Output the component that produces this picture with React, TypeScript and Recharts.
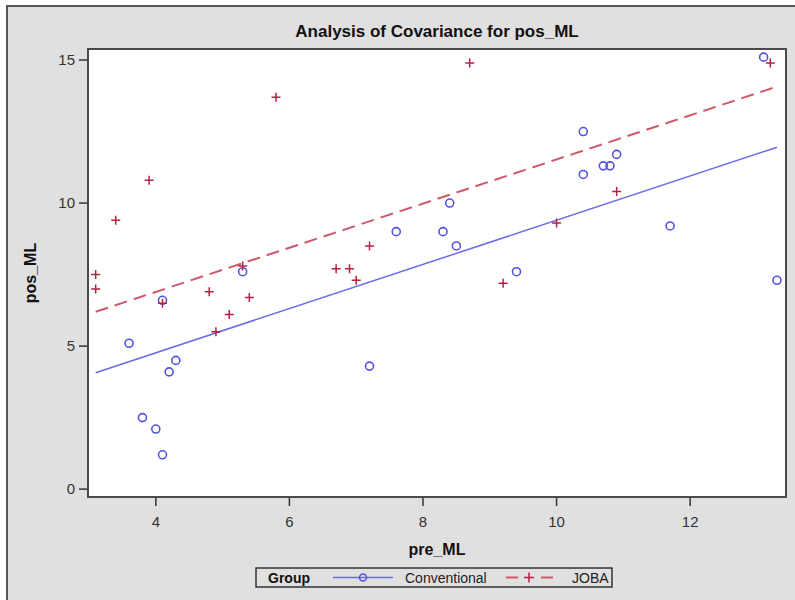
import React from "react";
import { ScatterChart, Scatter, XAxis, YAxis } from "recharts";

// Conventional group (circles)
const convX = [3.6, 4.1, 4.3, 4.2, 3.8, 4.0, 4.1, 5.3, 7.2, 7.6, 8.3, 8.4, 8.5, 9.4, 10.4, 10.4, 10.7, 10.8, 10.9, 11.7, 13.1, 13.3];
const convY = [5.1, 6.6, 4.5, 4.1, 2.5, 2.1, 1.2, 7.6, 4.3, 9.0, 9.0, 10.0, 8.5, 7.6, 12.5, 11.0, 11.3, 11.3, 11.7, 9.2, 15.1, 7.3];

// JOBA group (plus signs)
const jobaX = [3.1, 3.1, 3.4, 3.9, 4.1, 4.8, 4.9, 5.1, 5.3, 5.4, 5.8, 6.7, 6.9, 7.0, 7.2, 8.7, 9.2, 10.0, 10.9, 13.2];
const jobaY = [7.5, 7.0, 9.4, 10.8, 6.5, 6.9, 5.5, 6.1, 7.8, 6.7, 13.7, 7.7, 7.7, 7.3, 8.5, 14.9, 7.2, 9.3, 10.4, 14.9];

// fitted (parallel) ANCOVA lines
const fitX = [3.1, 13.3];
const fitConv = [4.07, 11.95];
const fitJoba = [6.2, 14.07];

const xTicks = [4, 6, 8, 10, 12];
const yTicks = [0, 5, 10, 15];

const BLUE = "#5252e0";
const BLUE_LINE = "#6a6aea";
const RED = "#b8203f";
const RED_LINE = "#cf5868";
const FONT = "'Liberation Sans', Arial, sans-serif";

const toPoints = (xs: number[], ys: number[]) => xs.map((x, i) => ({ x, y: ys[i] }));

const convData = toPoints(convX, convY);
const jobaData = toPoints(jobaX, jobaY);
const convFit = toPoints(fitX, fitConv);
const jobaFit = toPoints(fitX, fitJoba);

const CircleMark = (props: any) => {
  const { cx, cy } = props;
  if (cx == null || cy == null) return <g />;
  return <circle cx={cx} cy={cy} r={4} fill="none" stroke={BLUE} strokeWidth={1.6} />;
};

const PlusMark = (props: any) => {
  const { cx, cy } = props;
  if (cx == null || cy == null) return <g />;
  const s = 4.5;
  return (
    <path
      d={`M${cx - s},${cy}H${cx + s}M${cx},${cy - s}V${cy + s}`}
      stroke={RED}
      strokeWidth={1.5}
      fill="none"
    />
  );
};

const NoMark = () => <g />;

function LegendBox() {
  return (
    <svg
      width={358}
      height={21}
      style={{ position: "absolute", left: 255, top: 567 }}
      fontFamily={FONT}
    >
      <rect x={1} y={1} width={356} height={19} fill="none" stroke="#333" strokeWidth={1.5} />
      <text x={13} y={15.5} fontSize={14} fontWeight="bold" fill="#111">
        Group
      </text>
      <line x1={78} x2={138} y1={10.5} y2={10.5} stroke={BLUE_LINE} strokeWidth={1.5} />
      <circle cx={108} cy={10.5} r={3.5} fill="none" stroke={BLUE} strokeWidth={1.5} />
      <text x={150} y={15.5} fontSize={14} fill="#222">
        Conventional
      </text>
      <line x1={251} x2={263} y1={10.5} y2={10.5} stroke={RED_LINE} strokeWidth={2} />
      <line x1={286} x2={298} y1={10.5} y2={10.5} stroke={RED_LINE} strokeWidth={2} />
      <path d="M269,10.5H279M274,5.5V15.5" stroke={RED} strokeWidth={1.5} />
      <text x={317} y={15.5} fontSize={14} fill="#222">
        JOBA
      </text>
    </svg>
  );
}

export default function App() {
  return (
    <div
      style={{
        position: "absolute",
        left: 0,
        top: 0,
        width: 795,
        height: 600,
        background: "#fff",
        overflow: "hidden",
        fontFamily: FONT,
      }}
    >
      <div
        style={{
          position: "absolute",
          left: 6,
          top: 5,
          width: 795,
          height: 600,
          background: "#e0e0e0",
          borderLeft: "2px solid #555",
          borderTop: "2px solid #555",
        }}
      />
      <div
        style={{
          position: "absolute",
          left: 87,
          top: 48,
          width: 700,
          height: 450,
          background: "#fff",
        }}
      />
      <div
        style={{
          position: "absolute",
          left: 0,
          width: 874,
          top: 22,
          textAlign: "center",
          fontSize: 17,
          fontWeight: "bold",
          color: "#111",
          lineHeight: "20px",
        }}
      >
        Analysis of Covariance for pos_ML
      </div>
      <div style={{ position: "absolute", left: 0, top: 0 }}>
        <ScatterChart
          width={795}
          height={600}
          margin={{ top: 48, right: 8, bottom: 62, left: 30 }}
        >
          <XAxis
            type="number"
            dataKey="x"
            domain={[2.97, 13.45]}
            ticks={xTicks}
            allowDataOverflow
            height={40}
            axisLine={false}
            tickSize={8}
            tickMargin={10}
            tickLine={{ stroke: "#333", strokeWidth: 1.5 }}
            tick={{ fill: "#333", fontSize: 15, fontFamily: FONT }}
            label={{
              value: "pre_ML",
              position: "insideBottom",
              offset: -17,
              fill: "#111",
              fontSize: 16,
              fontWeight: "bold",
              fontFamily: FONT,
            }}
          />
          <YAxis
            type="number"
            dataKey="y"
            domain={[-0.31, 15.42]}
            ticks={yTicks}
            allowDataOverflow
            width={57}
            axisLine={false}
            tickSize={8}
            tickMargin={4}
            tickLine={{ stroke: "#333", strokeWidth: 1.5 }}
            tick={{ fill: "#333", fontSize: 15, fontFamily: FONT }}
            label={{
              value: "pos_ML",
              angle: -90,
              position: "insideLeft",
              offset: 0,
              fill: "#111",
              fontSize: 16,
              fontWeight: "bold",
              fontFamily: FONT,
              style: { textAnchor: "middle" },
            }}
          />
          <Scatter
            name="Conventional fit"
            data={convFit}
            line={{ stroke: BLUE_LINE, strokeWidth: 1.5 }}
            shape={NoMark}
            isAnimationActive={false}
          />
          <Scatter
            name="JOBA fit"
            data={jobaFit}
            line={{ stroke: RED_LINE, strokeWidth: 2, strokeDasharray: "13 7" }}
            shape={NoMark}
            isAnimationActive={false}
          />
          <Scatter name="Conventional" data={convData} shape={CircleMark} isAnimationActive={false} />
          <Scatter name="JOBA" data={jobaData} shape={PlusMark} isAnimationActive={false} />
        </ScatterChart>
      </div>
      <div
        style={{
          position: "absolute",
          left: 87,
          top: 48,
          width: 700,
          height: 450,
          boxSizing: "border-box",
          border: "2px solid #4a4a4a",
          pointerEvents: "none",
        }}
      />
      <LegendBox />
    </div>
  );
}
